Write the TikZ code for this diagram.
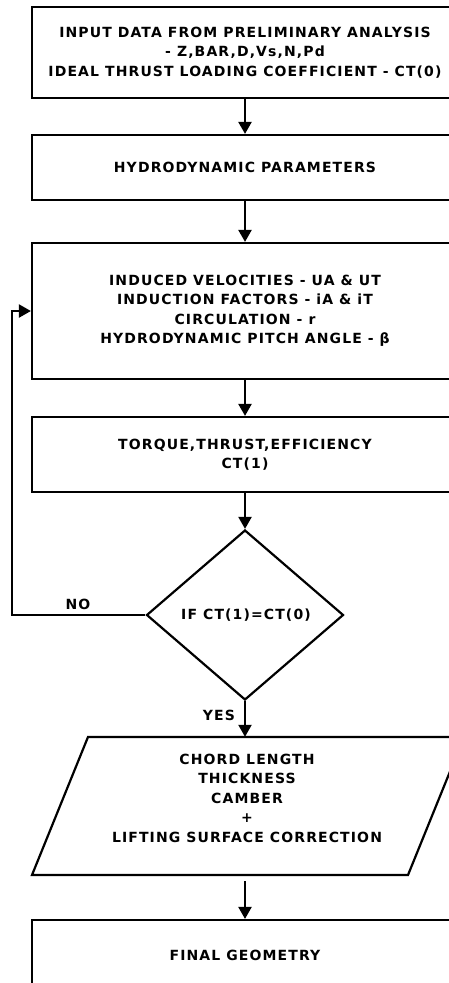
\documentclass[tikz,border=0pt]{standalone}
\usepackage{fontspec}
\setmainfont{DejaVu Sans}
\newfontfamily\vb{DejaVu Sans}[LetterSpace=8]
\usetikzlibrary{arrows.meta,shapes.geometric}
\begin{document}
\begin{tikzpicture}[x=1pt,y=-1pt,
  box/.style={draw,line width=2.2pt,minimum width=426pt,inner sep=0pt,
    font=\vb\bfseries\fontsize{14}{19.5}\selectfont,align=center},
  lbl/.style={font=\vb\bfseries\fontsize{14}{19.5}\selectfont,align=center,inner sep=0pt},
  arr/.style={line width=2.2pt,-{Triangle[width=13pt,length=12pt]}}]
\useasboundingbox (0,0) rectangle (449,983);
\clip (0,0) rectangle (449,983);
\node[box,minimum height=91pt] (b1) at (245,52.5)
  {INPUT DATA FROM PRELIMINARY ANALYSIS\\- Z,BAR,D,Vs,N,Pd\\IDEAL THRUST LOADING COEFFICIENT - CT(0)};
\node[box,minimum height=65pt] (b2) at (245,167.5) {HYDRODYNAMIC PARAMETERS};
\node[box,minimum height=136pt] (b3) at (245,311)
  {INDUCED VELOCITIES - UA \& UT\\INDUCTION FACTORS - iA \& iT\\CIRCULATION - r\\HYDRODYNAMIC PITCH ANGLE - β};
\node[box,minimum height=75pt] (b4) at (245,454.5) {TORQUE,THRUST,EFFICIENCY\\CT(1)};
\node[draw,diamond,line width=2.2pt,minimum width=197pt,minimum height=170pt,inner sep=0pt] (dec) at (245,615) {};
\node[lbl] (dect) at (246,615) {IF CT(1)=CT(0)};
\draw[line width=2.2pt] (88,737) -- (464,737) -- (408,875) -- (32,875) -- cycle;
\node[minimum width=300pt,minimum height=138pt,inner sep=0pt] (para) at (248,806) {};
\node[lbl] (parat) at (247,798) {CHORD LENGTH\\THICKNESS\\CAMBER\\+\\LIFTING SURFACE CORRECTION};
\node[box,minimum height=70pt] (b5) at (245,955) {FINAL GEOMETRY};
\node[lbl] (no) at (78,604) {NO};
\node[lbl] (yes) at (219,715) {YES};
\coordinate (fb) at (12,615);
\draw[arr] (b1) -- (b2);
\draw[arr] (b2) -- (b3);
\draw[arr] (b3) -- (b4);
\draw[arr] (b4) -- (dec);
\draw[arr] (dec.south) -- (dec.south |- para.north);
\draw[arr,shorten <=6pt] (b5.north |- para.south) -- (b5.north);
\draw[arr] (dec.west) -- (fb) |- (b3.west);
\end{tikzpicture}
\end{document}
